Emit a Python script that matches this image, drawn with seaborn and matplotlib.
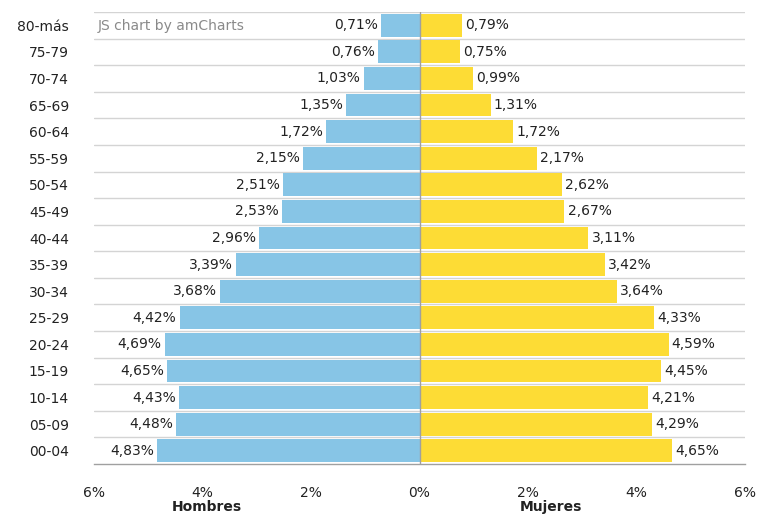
import matplotlib
matplotlib.use("Agg")
import matplotlib.pyplot as plt
import seaborn as sns
import pandas as pd
import numpy as np

ages = ["80-más", "75-79", "70-74", "65-69", "60-64", "55-59", "50-54", "45-49",
        "40-44", "35-39", "30-34", "25-29", "20-24", "15-19", "10-14", "05-09", "00-04"]
hombres = [0.71, 0.76, 1.03, 1.35, 1.72, 2.15, 2.51, 2.53, 2.96, 3.39, 3.68,
           4.42, 4.69, 4.65, 4.43, 4.48, 4.83]
mujeres = [0.79, 0.75, 0.99, 1.31, 1.72, 2.17, 2.62, 2.67, 3.11, 3.42, 3.64,
           4.33, 4.59, 4.45, 4.21, 4.29, 4.65]
xticks = [-6, -4, -2, 0, 2, 4, 6]
xticklabels = ["6%", "4%", "2%", "0%", "2%", "4%", "6%"]

sns.set_style("white")
plt.rcParams['font.family'] = ['DejaVu Sans']

df = pd.DataFrame({"edad": ages, "hombres": [-v for v in hombres], "mujeres": mujeres})

fig = plt.figure(figsize=(7.61, 5.14), dpi=100)
ax = fig.add_axes([94/761, 1 - 464/514, (745-94)/761, (464-12)/514])

blue = "#87c5e6"
yellow = "#fddc35"
sns.barplot(data=df, y="edad", x="hombres", orient="h", color=blue, width=0.86,
            saturation=1, ax=ax, edgecolor="none")
sns.barplot(data=df, y="edad", x="mujeres", orient="h", color=yellow, width=0.86,
            saturation=1, ax=ax, edgecolor="none")

n = len(ages)
ax.set_xlim(-6, 6)
ax.set_ylim(n - 0.5, -0.5)
for i in range(n):
    ax.axhline(i - 0.5, color="#d4d4d4", lw=1, zorder=0)
ax.axvline(0, color="#a0a0a0", lw=1, zorder=3)

for i, (h, m) in enumerate(zip(hombres, mujeres)):
    ax.text(-h - 0.06, i, f"{h:.2f}%".replace(".", ","), ha="right", va="center",
            fontsize=10, color="#222222")
    ax.text(m + 0.06, i, f"{m:.2f}%".replace(".", ","), ha="left", va="center",
            fontsize=10, color="#222222")

ax.set_xticks(xticks)
ax.set_xticklabels(xticklabels, fontsize=10, color="#222222")
ax.tick_params(axis="x", direction="out", length=10, width=1, color="#a0a0a0", pad=6)
ax.tick_params(axis="y", length=0, pad=18, labelsize=10, labelcolor="#222222")
ax.set_xlabel("")
ax.set_ylabel("")
for s in ["left", "right", "top"]:
    ax.spines[s].set_visible(False)
ax.spines["bottom"].set_color("#a0a0a0")
ax.spines["bottom"].set_linewidth(1)

ax.text(0.005, 0.985, "JS chart by amCharts", transform=ax.transAxes, ha="left", va="top",
        fontsize=10, color="#8a8a8a")

fig.text(207/761, 1 - 507/514, "Hombres", ha="center", va="center", fontsize=10,
         fontweight="bold", color="#222222")
fig.text(551/761, 1 - 507/514, "Mujeres", ha="center", va="center", fontsize=10,
         fontweight="bold", color="#222222")

fig.savefig("out.png", dpi=100)
